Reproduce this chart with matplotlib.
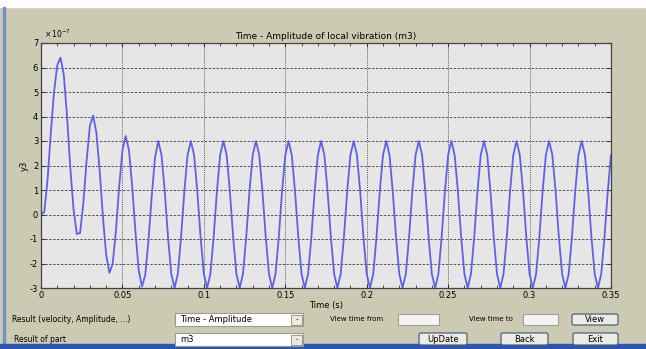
import numpy as np
import matplotlib.pyplot as plt
from matplotlib.patches import Rectangle, FancyBboxPatch
from matplotlib.ticker import MultipleLocator, FuncFormatter

plt.rcParams['axes.unicode_minus'] = False
plt.rcParams['font.family'] = 'DejaVu Sans'

# displacement of part m3, sampled every 2 ms (units of 1e-7)
y3 = [
    0.0, 0.1, 1.4, 3.3, 5.0, 6.1, 6.4, 5.7, 4.0, 1.9,
    0.2, -0.8, -0.75, 0.47, 2.19, 3.61, 4.04, 3.34, 1.81, -0.07,
    -1.63, -2.38, -2.02, -0.67, 1.13, 2.62, 3.2, 2.63, 1.15, -0.72,
    -2.27, -2.94, -2.47, -1.05, 0.76, 2.32, 3.0, 2.43, 0.93, -0.93,
    -2.43, -3.0, -2.43, -0.93, 0.93, 2.43, 3.0, 2.43, 0.93, -0.93,
    -2.43, -3.0, -2.43, -0.93, 0.93, 2.43, 3.0, 2.43, 0.93, -0.93,
    -2.43, -3.0, -2.43, -0.93, 0.93, 2.43, 3.0, 2.43, 0.93, -0.93,
    -2.43, -3.0, -2.43, -0.93, 0.93, 2.43, 3.0, 2.43, 0.93, -0.93,
    -2.43, -3.0, -2.43, -0.93, 0.93, 2.43, 3.0, 2.43, 0.93, -0.93,
    -2.43, -3.0, -2.43, -0.93, 0.93, 2.43, 3.0, 2.43, 0.93, -0.93,
    -2.43, -3.0, -2.43, -0.93, 0.93, 2.43, 3.0, 2.43, 0.93, -0.93,
    -2.43, -3.0, -2.43, -0.93, 0.93, 2.43, 3.0, 2.43, 0.93, -0.93,
    -2.43, -3.0, -2.43, -0.93, 0.93, 2.43, 3.0, 2.43, 0.93, -0.93,
    -2.43, -3.0, -2.43, -0.93, 0.93, 2.43, 3.0, 2.43, 0.93, -0.93,
    -2.43, -3.0, -2.43, -0.93, 0.93, 2.43, 3.0, 2.43, 0.93, -0.93,
    -2.43, -3.0, -2.43, -0.93, 0.93, 2.43, 3.0, 2.43, 0.93, -0.93,
    -2.43, -3.0, -2.43, -0.93, 0.93, 2.43, 3.0, 2.43, 0.93, -0.93,
    -2.43, -3.0, -2.43, -0.93, 0.93, 2.43,
]
time_s = np.linspace(0, 0.35, len(y3))
y_scale = 1e-7

x_ticks = [0, 0.05, 0.1, 0.15, 0.2, 0.25, 0.3, 0.35]
x_ticklabels = ['0', '0.05', '0.1', '0.15', '0.2', '0.25', '0.3', '0.35']

bg = '#cdcab3'
fig = plt.figure(figsize=(6.46, 3.49), dpi=100, facecolor=bg)

ax = fig.add_axes([41 / 646, 1 - 288 / 349, 570 / 646, 245 / 349])
ax.set_facecolor('#e6e6e6')
ax.plot(time_s, np.array(y3) * y_scale, color='#6060e4', lw=1.3)
ax.set_xlim(0, 0.35)
ax.set_ylim(-3e-7, 7e-7)
ax.set_xticks(x_ticks)
ax.set_xticklabels(x_ticklabels)
ax.xaxis.set_minor_locator(MultipleLocator(0.01))
ax.yaxis.set_major_locator(MultipleLocator(1e-7))
ax.yaxis.set_major_formatter(FuncFormatter(lambda v, _: f'{round(v / y_scale):d}'))
ax.text(0.006, 1.012, r'$\times\,10^{\mathregular{-7}}$', transform=ax.transAxes,
        fontsize=5.5, va='bottom', ha='left')
ax.tick_params(which='both', direction='in', top=True, right=True,
               labelsize=6, color='#333333', pad=2)
ax.tick_params(which='major', length=3)
ax.tick_params(which='minor', length=2)
ax.grid(axis='y', color='#555555', lw=0.7, ls=(0, (2.5, 1.5)))
ax.grid(axis='x', color='#555555', lw=0.7, ls=(0, (1, 1.2)))
for s in ax.spines.values():
    s.set_color('#444444')
    s.set_linewidth(0.9)
ax.set_title('Time - Amplitude of local vibration (m3)', fontsize=6.5, pad=3)
ax.set_xlabel('Time (s)', fontsize=6, labelpad=1)
ax.set_ylabel('y3', fontsize=6, labelpad=1)

# window controls drawn in pixel coordinates
ui = fig.add_axes([0, 0, 1, 1], zorder=-1)
ui.set_xlim(0, 646)
ui.set_ylim(349, 0)
ui.axis('off')
ui.add_patch(Rectangle((0, 0), 646, 7, color='white'))
ui.add_patch(Rectangle((3, 7), 2, 337, color='#7090c8'))
ui.add_patch(Rectangle((0, 344), 646, 5, color='#2c55b0'))

ui.text(12, 320, 'Result (velocity, Amplitude, ...)', fontsize=5.5, va='center')
ui.text(14, 340, 'Result of part', fontsize=5.5, va='center')
ui.text(330, 319, 'View time from', fontsize=5, va='center')
ui.text(469, 319, 'View time to', fontsize=5, va='center')

for y0, label in [(313, 'Time - Amplitude'), (333, 'm3')]:
    ui.add_patch(Rectangle((175, y0), 128, 13, fc='white', ec='#9a9a9a', lw=0.8))
    ui.add_patch(Rectangle((291, y0 + 1.5), 10.5, 10, fc='#ece9d8', ec='#8a8a8a', lw=0.6))
    ui.text(297, y0 + 6.5, '-', fontsize=5, ha='center', va='center')
    ui.text(180, y0 + 6.5, label, fontsize=6, va='center')

for x0, x1 in [(398, 439), (523, 558)]:
    ui.add_patch(Rectangle((x0, 314), x1 - x0, 11, fc='#f4f4f4', ec='#a0a0a0', lw=0.8))

for x0, y0, x1, y1, label in [(572, 314, 618, 325, 'View'),
                              (419, 333, 467, 345, 'UpDate'),
                              (501, 333, 548, 345, 'Back'),
                              (573, 333, 618, 345, 'Exit')]:
    ui.add_patch(FancyBboxPatch((x0, y0), x1 - x0, y1 - y0,
                                boxstyle='round,pad=0,rounding_size=2',
                                fc='#ecebe4', ec='#4a6283', lw=0.9))
    ui.text((x0 + x1) / 2, (y0 + y1) / 2, label, fontsize=6,
            ha='center', va='center')

fig.savefig('out.png', dpi=100, facecolor=bg)
